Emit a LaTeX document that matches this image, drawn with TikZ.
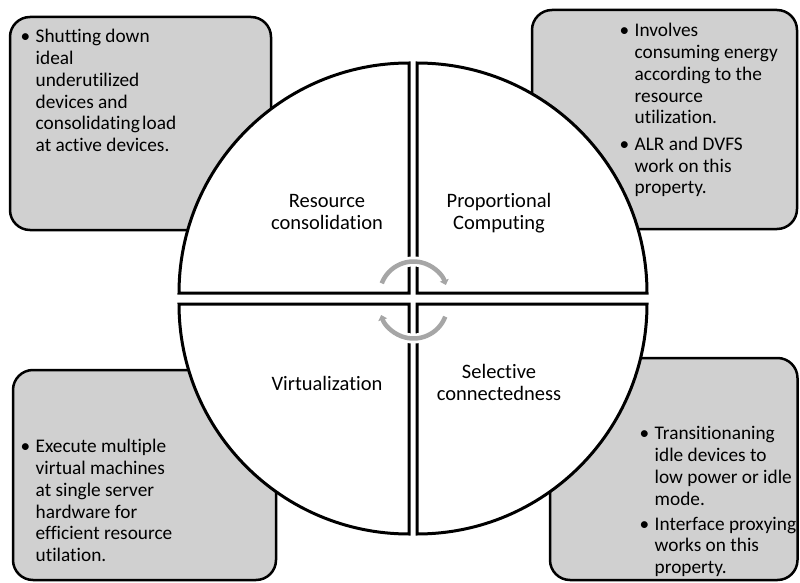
\documentclass[tikz,border=0pt]{standalone}
\usepackage{fontspec}
\setmainfont{Carlito}[RawFeature={-liga}]
\usetikzlibrary{arrows.meta}
\definecolor{boxfill}{RGB}{208,208,208}
\definecolor{cyclegray}{RGB}{166,166,166}
\newcommand{\blt}{\makebox[15pt][l]{\textbullet}}
\begin{document}
\begin{tikzpicture}[x=1pt,y=1pt,
  notebox/.style={draw=black, fill=boxfill, line width=2.5pt, rounded corners=20pt},
  quadrant/.style={draw=black, fill=white, line width=3pt, line join=miter},
  notetext/.style={anchor=north west, inner sep=0pt, font=\fontsize{19.3}{21.7}\selectfont},
  label/.style={anchor=center, inner sep=0pt, font=\fontsize{20.5}{21.7}\selectfont},
  halo/.style={white, line width=10pt},
  cyclearrow/.style={cyclegray, line width=4.5pt, -{Triangle[length=5pt,width=9pt]}}]
\useasboundingbox (0,0) rectangle (800,582);

% note boxes behind the disc
\draw[notebox] (10,352) rectangle (271,565);
\draw[notebox] (532,353) rectangle (797,572);
\draw[notebox] (13,2) rectangle (276,212);
\draw[notebox] (550,2) rectangle (797.5,224);

% four quadrants of the disc
\draw[quadrant] (409,289) -- ++(-230,0) arc[start angle=180, end angle=90, radius=230] -- cycle;
\draw[quadrant] (417,289) -- ++(0,230) arc[start angle=90, end angle=0, radius=230] -- cycle;
\draw[quadrant] (409,278) -- ++(-230,0) arc[start angle=180, end angle=270, radius=230] -- cycle;
\draw[quadrant] (417,278) -- ++(0,-230) arc[start angle=270, end angle=360, radius=230] -- cycle;

% circular arrows in the middle
\coordinate (uppercyc) at (413.5,286.5);
\coordinate (lowercyc) at (413.5,277.5);
\draw[halo] (uppercyc) ++(159:34) arc[start angle=159, end angle=20, radius=34];
\draw[halo] (lowercyc) ++(-20:34) arc[start angle=-20, end angle=-159, radius=34];
\draw[cyclearrow] (uppercyc) ++(159:34) arc[start angle=159, end angle=18, radius=34];
\draw[cyclearrow] (lowercyc) ++(-21:34) arc[start angle=-21, end angle=-162, radius=34];

% quadrant titles
\node[label] (rc) at (327,368) {\begin{tabular}{@{}c@{}}Resource\\consolidation\end{tabular}};
\node[label] (pc) at (499,368) {\begin{tabular}{@{}c@{}}Proportional\\Computing\end{tabular}};
\node[label] (vz) at (327,196) {\begin{tabular}{@{}c@{}}Virtualization\end{tabular}};
\node[label] (sc) at (499,196.5) {\begin{tabular}{@{}c@{}}Selective\\connectedness\end{tabular}};

% notes
\node[notetext] (rcnote) at (20.5,554.4) {\begin{tabular}{@{}l@{}l@{}}
\blt & Shutting down\\
 & ideal\\
 & underutilized\\
 & devices and\\
 & consolidating\hspace{-2pt} load\\
 & at active devices.
\end{tabular}};
\node[notetext] (pcnote) at (619.5,560.4) {\begin{tabular}{@{}l@{}l@{}}
\blt & Involves\\
 & consuming energy\\
 & according to the\\
 & resource\\
 & utilization.\\[5pt]
\blt & ALR and DVFS\\
 & work on this\\
 & property.
\end{tabular}};
\node[notetext] (vznote) at (20.5,144.4) {\begin{tabular}{@{}l@{}l@{}}
\blt & Execute multiple\\
 & virtual machines\\
 & at single server\\
 & hardware for\\
 & efficient resource\\
 & utilation.
\end{tabular}};
\node[notetext] (scnote) at (639.5,157.4) {\begin{tabular}{@{}l@{}l@{}}
\blt & Transitionaning\\
 & idle devices to\\
 & low power or idle\\
 & mode.\\[3.5pt]
\blt & Interface proxying\\
 & works on this\\
 & property.
\end{tabular}};
\end{tikzpicture}
\end{document}
